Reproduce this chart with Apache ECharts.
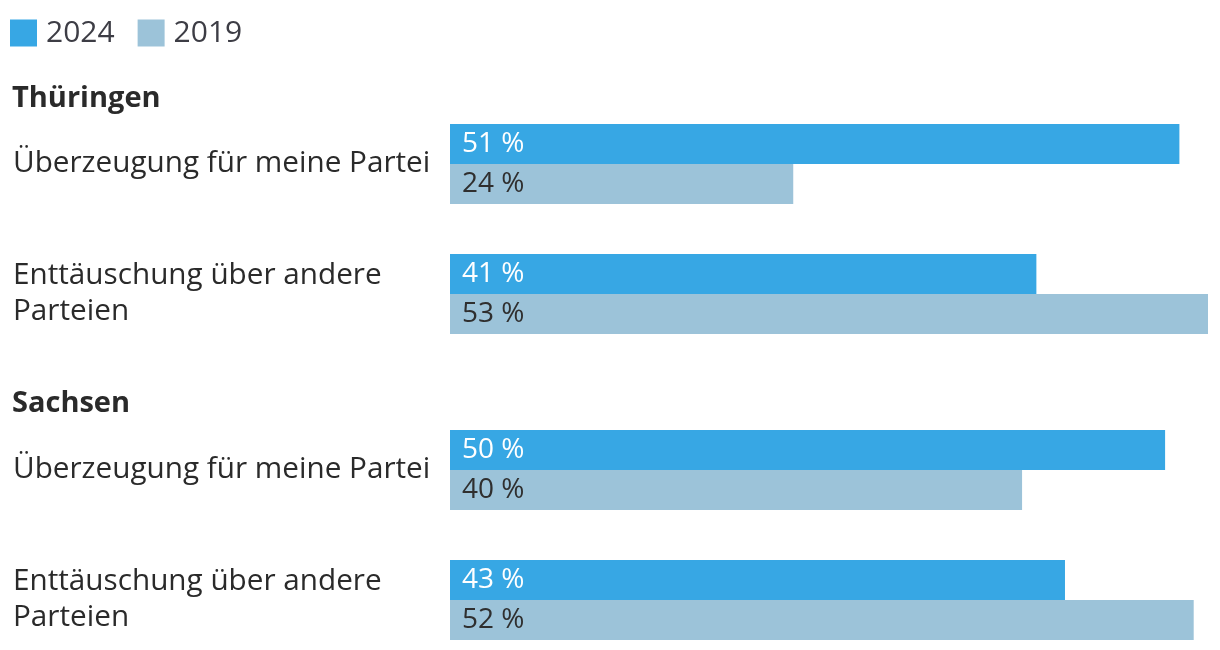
<!DOCTYPE html>
<html>
<head>
<meta charset="utf-8">
<script src="https://cdn.jsdelivr.net/npm/echarts@6/dist/echarts.min.js"></script>
<style>html,body{margin:0;padding:0;background:#fff}#c{width:1220px;height:650px}</style>
</head>
<body>
<div id="c"></div>
<script>
const groups = ['Thüringen', 'Sachsen'];
const categories = ['Überzeugung für meine Partei', 'Enttäuschung über andere\nParteien', 'Überzeugung für meine Partei', 'Enttäuschung über andere\nParteien'];
const seriesNames = ['2024', '2019'];
const values2024 = [51, 41, 50, 43];
const values2019 = [24, 53, 40, 52];

const FONT = 'Open Sans';
const TEXT = '#2a2a2a';
const C24 = '#37A7E4';
const C19 = '#9CC3D9';
const tops = [124, 254, 430, 560];

const grids = [], xAxes = [], yAxes = [], series = [];
categories.forEach((cat, i) => {
  grids.push({left: 450, width: 758, top: tops[i], height: 80, containLabel: false});
  xAxes.push({type: 'value', gridIndex: i, min: 0, max: 53, show: false});
  yAxes.push({type: 'category', gridIndex: i, data: [cat], inverse: true,
    axisLine: {show: false}, axisTick: {show: false}, splitLine: {show: false},
    axisLabel: {align: 'left', margin: 437, color: TEXT, fontFamily: FONT, fontSize: 29.7, lineHeight: 36}});
  [[seriesNames[0], values2024, C24, '#ffffff'], [seriesNames[1], values2019, C19, '#2f2f2f']].forEach(([name, vals, col, lc]) => {
    series.push({type: 'bar', name, xAxisIndex: i, yAxisIndex: i, data: [vals[i]],
      barWidth: 40, barGap: '0%', itemStyle: {color: col},
      label: {show: true, position: 'insideLeft', distance: 12, formatter: '{c} %', color: lc, fontFamily: FONT, fontSize: 28},
      silent: true, animation: false});
  });
});

const chart = echarts.init(document.getElementById('c'));
chart.setOption({
  animation: false,
  legend: {left: 5, top: 13, itemWidth: 27, itemHeight: 27, itemGap: 23, icon: 'rect',
    data: seriesNames, textStyle: {color: '#3d3d45', fontFamily: FONT, fontSize: 30, padding: [0, 0, 0, 4]}},
  title: groups.map((g, k) => ({text: g, left: 7, top: k === 0 ? 79 : 384,
    textStyle: {color: TEXT, fontFamily: FONT, fontSize: 29, fontWeight: 'bold'}})),
  grid: grids, xAxis: xAxes, yAxis: yAxes, series
});
</script>
</body>
</html>
